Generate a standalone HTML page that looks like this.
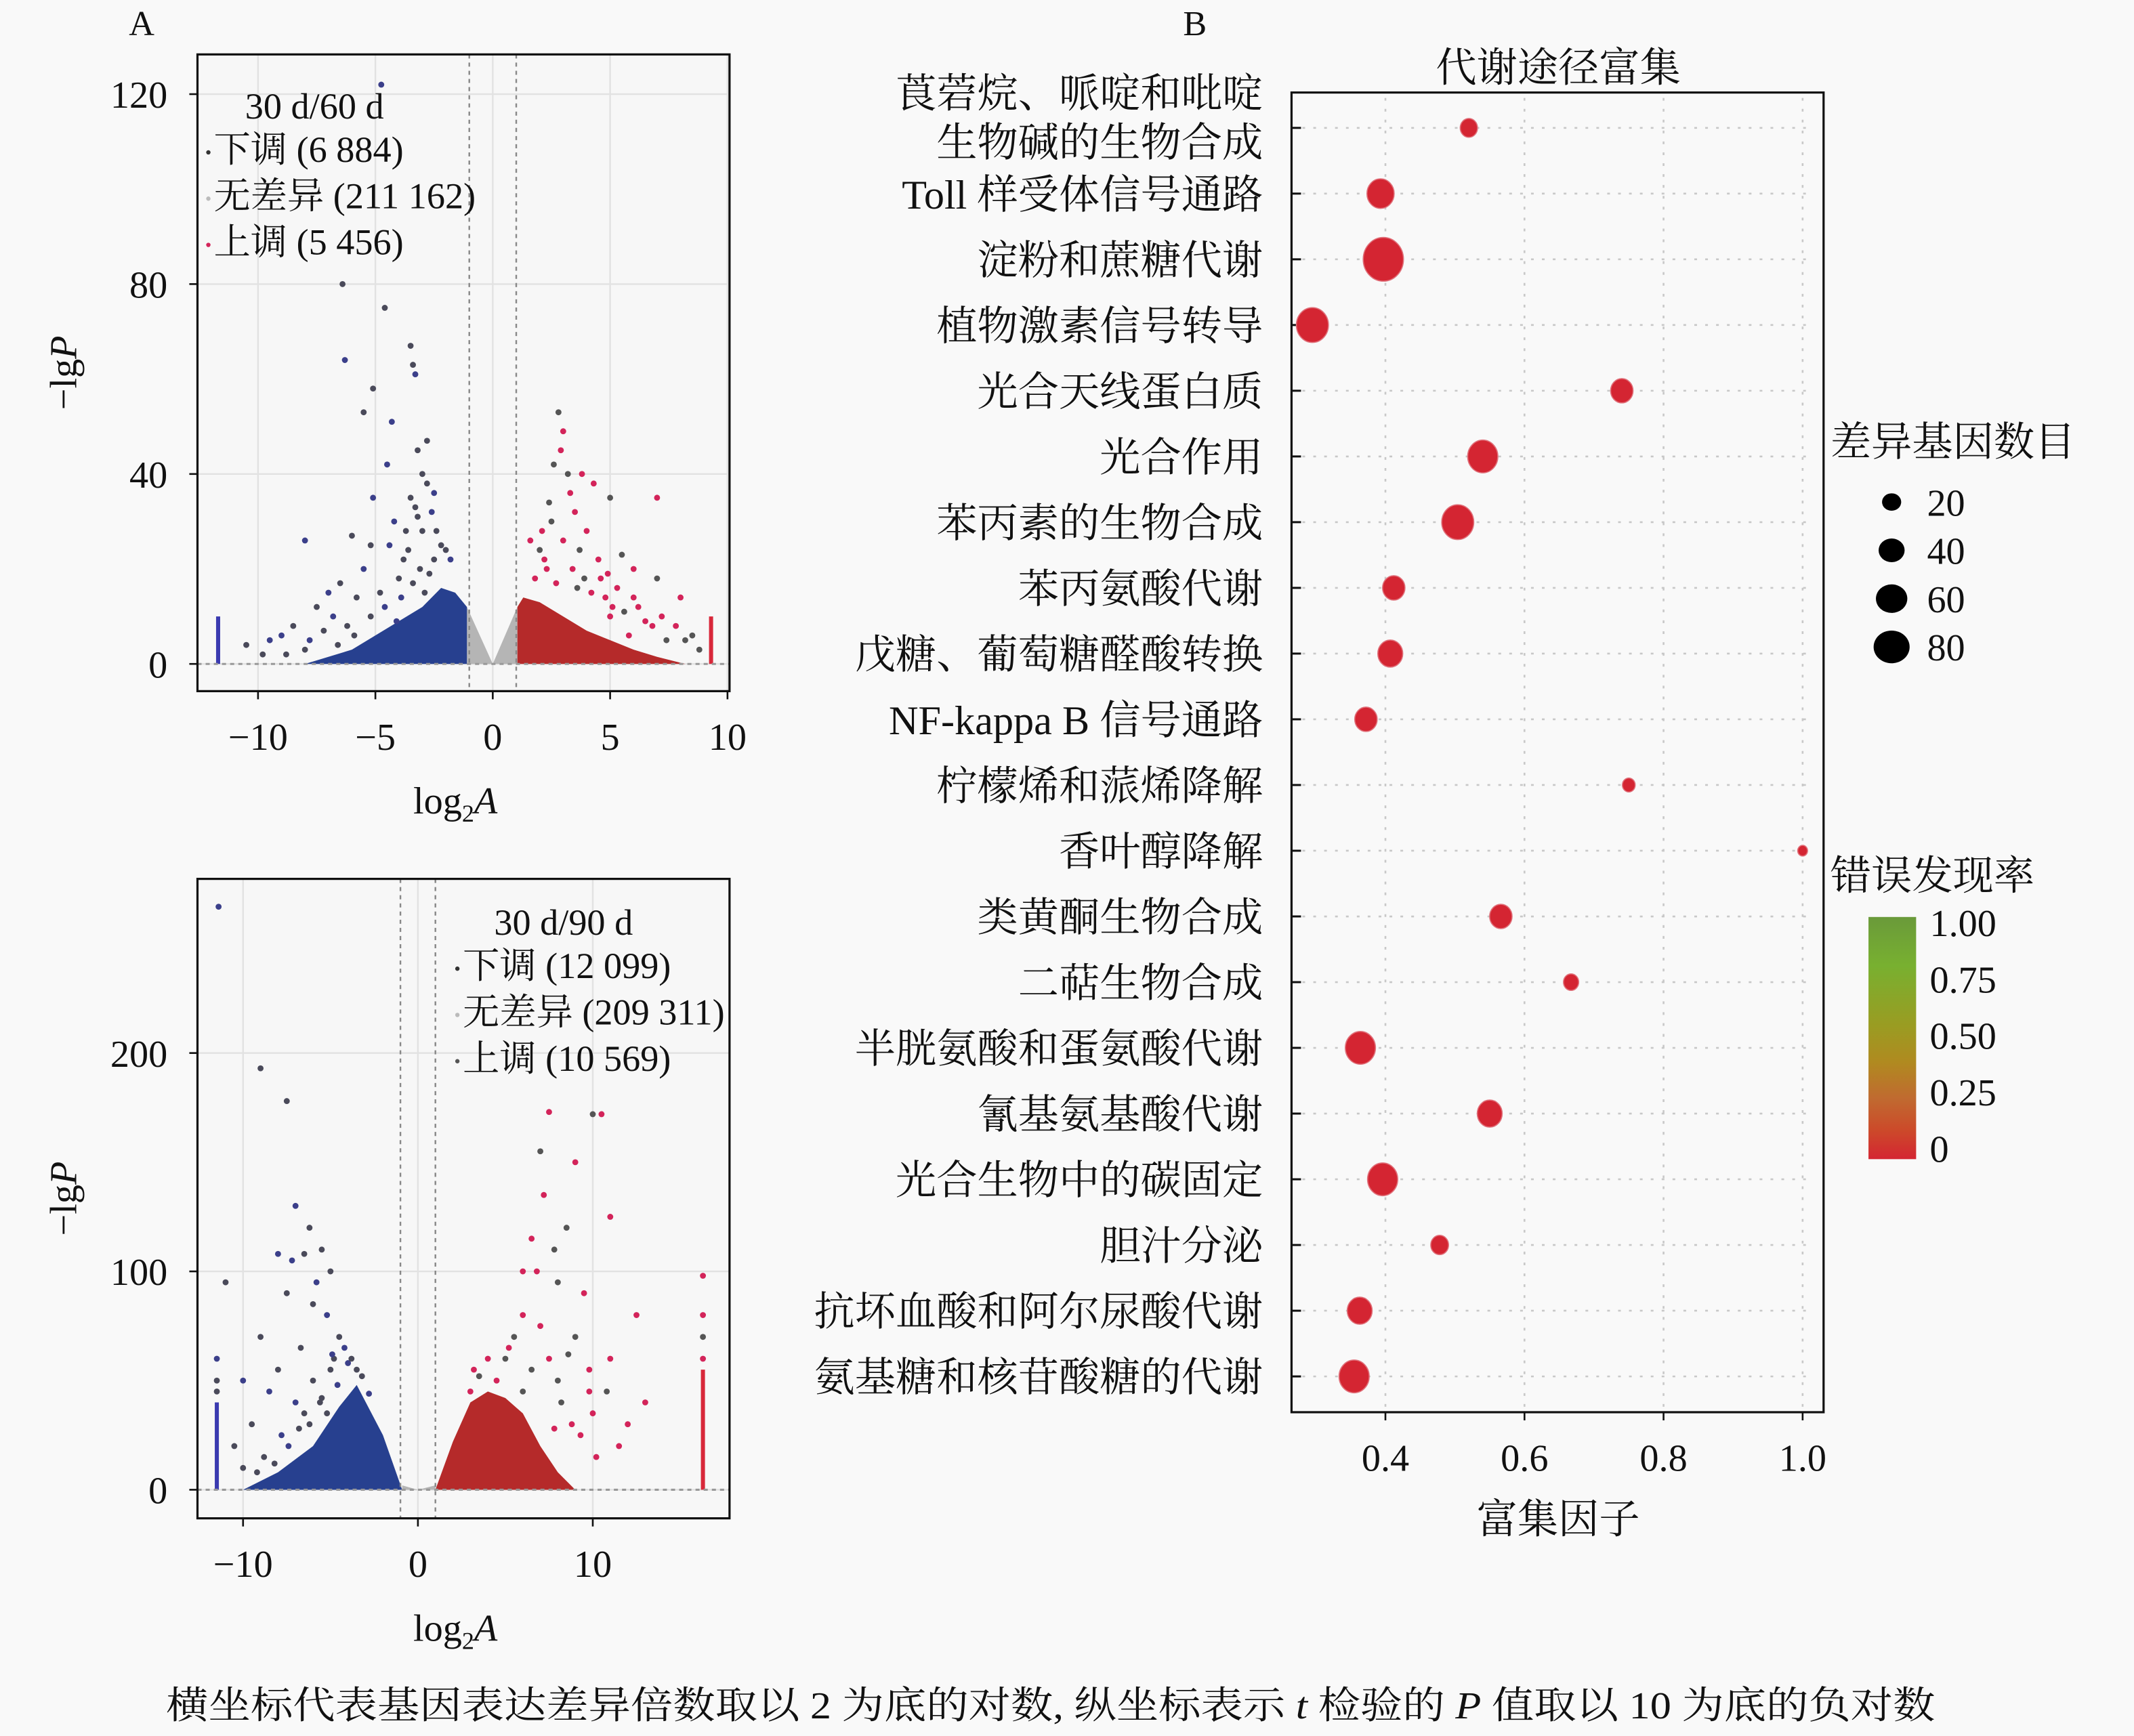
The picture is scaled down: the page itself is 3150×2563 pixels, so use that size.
<!DOCTYPE html>
<html><head><meta charset="utf-8">
<style>
html,body{margin:0;padding:0;background:#f9f9f9;}
svg{display:block;}
text{font-family:"Liberation Serif","Noto Serif CJK SC",serif;fill:#111;}
</style></head>
<body>
<svg id="root" width="3150" height="2563" viewBox="0 0 1568 1276" xmlns="http://www.w3.org/2000/svg">
<rect x="0" y="0" width="1568" height="1276" fill="#f9f9f9"/>
<g id="gA1"></g>
<g id="gA2"></g>
<g id="gB"></g>
<text x="104" y="26" font-size="26" text-anchor="middle">A</text>
<text x="878" y="26" font-size="26" text-anchor="middle">B</text>
<text x="772" y="1263" font-size="28" text-anchor="middle" textLength="1300" lengthAdjust="spacingAndGlyphs">横坐标代表基因表达差异倍数取以 2 为底的对数, 纵坐标表示 <tspan font-style="italic">t</tspan> 检验的 <tspan font-style="italic">P</tspan> 值取以 10 为底的负对数</text>
</svg>
<script>
// ---------- Volcano 1 data (30 d/60 d) ----------
const v1DownOutliers = [[-4.75,122],[-6.4,80],[-4.6,75],[-6.3,64],[-3.5,67],[-3.4,63],[-3.3,61],[-5.1,58],[-5.5,53],[-4.3,51],[-2.8,47],[-3.2,45],[-4.5,42],[-3,40],[-2.8,38],[-5.1,35],[-3.5,35],[-3.3,33],[-8,26],[-6,27],[-5.2,25],[-4.4,25],[-3.6,24],[-2.5,22],[-7,15],[-8.5,8],[-10.5,4],[-9,6],[-7.5,12],[-6.5,17],[-5.5,20],[-4,18],[-3,28],[-4.2,30],[-3.8,22],[-2.2,25],[-6.8,10],[-5.8,14],[-4.8,15],[-9.5,5],[-8,3],[-7.2,7],[-2.6,32],[-2.4,28],[-2,24],[-1.8,22],[-3.1,20],[-2.7,19],[-4.6,12],[-5.2,10],[-6.2,8],[-3.9,14],[-3.4,17],[-2.9,15],[-7.8,5],[-6.6,4],[-5.9,6],[-4.1,9],[-3.7,28],[-3.2,31],[-2.5,36],[-9.8,2],[-8.8,2]];
const v1UpOutliers = [[2.8,53],[3,49],[2.9,45],[3.2,40],[3.8,40],[4.3,38],[5,35],[7,35],[3.5,32],[2.5,30],[4,28],[3,26],[5.5,23],[4.5,22],[6,20],[7,18],[8,14],[7.8,8],[8.5,6],[5,10],[6.5,9],[2,24],[2.3,20],[1.8,18],[3.6,16],[4.8,14],[6.2,12],[7.4,5],[5.8,6],[3.3,36],[2.6,42],[4.6,18],[5.3,16],[8.8,3],[1.6,26],[2.1,28],[2.4,34],[2.2,22],[3.4,20],[3.9,18],[4.2,15],[5.1,12],[5.6,11],[6.8,8],[7.2,10],[8.2,5],[6,14],[4.9,19],[3.7,24],[2.7,17]];
const v1DownEnvX = [-8,-6,-5,-4,-3,-2.2,-1.6,-1.1];
const v1DownEnvY = [0,3,6,9,12,16,15,12];
const v1UpEnvX = [1.05,1.3,2,3,4,5,6,7,8.2];
const v1UpEnvY = [12,14,13,10,7,5,3,1.5,0];
const v1NsEnvX = [-1.1,0,1.05];
const v1NsEnvY = [12,0,12];
const v1BarDown = [-11.7,10];
const v1BarUp = [9.3,10];
const v1XTicks = [-10,-5,0,5,10];
const v1YTicks = [0,40,80,120];

// ---------- Volcano 2 data (30 d/90 d) ----------
const v2DownOutliers = [[-11.4,267],[-9,193],[-7.5,178],[-7,130],[-6.2,120],[-11,95],[-8,108],[-6.5,108],[-5,100],[-5.8,95],[-7.5,90],[-9,70],[-10,50],[-8,55],[-6.7,65],[-5.2,80],[-4.5,70],[-6,85],[-7.2,105],[-5.5,110],[-4.8,60],[-8.5,45],[-9.5,30],[-10.5,20],[-7,40],[-6,50],[-5,55],[-4,58],[-10,10],[-8.8,15],[-7.8,25],[-6.5,35],[-5.5,42],[-11.5,60],[-11.5,50],[-11.5,45],[-4.2,65],[-3.8,60],[-3.2,52],[-2.8,44],[-5.6,40],[-6.2,30],[-7.4,20],[-8.2,12],[-9.2,8],[-4.6,48],[-5.2,35],[-6.8,28],[-4.9,62],[-3.5,55]];
const v2UpOutliers = [[10,172],[10.5,172],[7.5,173],[7,155],[9,150],[11,125],[7.8,110],[6.5,115],[6,100],[8,95],[9.5,90],[12.5,80],[9,70],[11,60],[13,40],[8,50],[10,35],[6,80],[5,60],[7,75],[12,30],[8.5,120],[7.2,135],[6.8,100],[5.5,70],[4.5,50],[9.8,55],[10.8,45],[11.5,20],[8.8,30],[6,45],[16.3,98],[16.3,80],[16.3,70],[16.3,60],[4,60],[3.5,52],[3,45],[7.5,60],[8.2,40],[9.3,25],[10.2,15],[6.5,55],[7.8,28],[5.2,65],[8.6,62],[9.8,45],[3.2,55]];
const v2DownEnvX = [-10,-8,-6,-4.5,-3.5,-2,-0.9];
const v2DownEnvY = [0,8,20,38,48,25,0];
const v2UpEnvX = [1,2,3,4,5,6,7,8,9];
const v2UpEnvY = [0,22,40,45,42,35,20,8,0];
const v2NsEnvX = [-0.9,0,1];
const v2NsEnvY = [2,0,2];
const v2BarDown = [-11.5,40];
const v2BarUp = [16.3,55];
const v2XTicks = [-10,0,10];
const v2YTicks = [0,100,200];

// ---------- Enrichment data ----------
const pathways = ["莨菪烷、哌啶和吡啶|生物碱的生物合成","Toll 样受体信号通路","淀粉和蔗糖代谢","植物激素信号转导","光合天线蛋白质","光合作用","苯丙素的生物合成","苯丙氨酸代谢","戊糖、葡萄糖醛酸转换","NF-kappa B 信号通路","柠檬烯和蒎烯降解","香叶醇降解","类黄酮生物合成","二萜生物合成","半胱氨酸和蛋氨酸代谢","氰基氨基酸代谢","光合生物中的碳固定","胆汁分泌","抗坏血酸和阿尔尿酸代谢","氨基糖和核苷酸糖的代谢"];
const richFactor = [0.52,0.393,0.397,0.295,0.74,0.54,0.504,0.412,0.407,0.372,0.75,1.0,0.566,0.667,0.364,0.55,0.396,0.478,0.363,0.355];
const geneCount = [14,40,92,57,26,50,57,26,33,26,6,2,26,10,50,33,50,15,33,50];
const fdr = [0.02,0,0,0,0.01,0,0,0.01,0.01,0.01,0.03,0.04,0.01,0.02,0,0.01,0,0.02,0.01,0];
const enrichXTicks = [0.4,0.6,0.8,1.0];
const sizeLegend = [20,40,60,80];
const fdrTicks = ["1.00","0.75","0.50","0.25","0"];

const NS='http://www.w3.org/2000/svg';
function mk(parent, tag, attrs){const e=document.createElementNS(NS,tag);for(const k in attrs)e.setAttribute(k,attrs[k]);parent.appendChild(e);return e;}

function volcano(g, cfg){
  const {L,R,T,B,x0,xs,y0,ys} = cfg;
  const X=v=>x0+v*xs, Y=v=>y0-v*ys;
  mk(g,'rect',{x:L,y:T,width:R-L,height:B-T,fill:'#f7f7f7'});
  cfg.xt.forEach(t=>{const l=mk(g,'line',{x1:X(t),x2:X(t),y1:T,y2:B,stroke:'#e2e2e2','stroke-width':1.2});
    
    });
  cfg.yt.forEach(t=>{const l=mk(g,'line',{x1:L,x2:R,y1:Y(t),y2:Y(t),stroke:'#e2e2e2','stroke-width':1.2});
    
    });
  const poly=(xsArr,ysArr,fill,name)=>{
    let pts=xsArr.map((v,i)=>X(v)+','+Y(ysArr[i])).join(' ');
    pts+=' '+X(xsArr[xsArr.length-1])+','+Y(0)+' '+X(xsArr[0])+','+Y(0);
    const p=mk(g,'polygon',{points:pts,fill:fill});
    
    
  };
  poly(cfg.nsx,cfg.nsy,'#b5b5b5','not-significant-region');
  poly(cfg.dx,cfg.dy,'#27408f','down-regulated-region');
  poly(cfg.ux,cfg.uy,'#b52a2a','up-regulated-region');
  const bd=mk(g,'rect',{x:X(cfg.bd[0])-1.5,y:Y(cfg.bd[1]),width:3,height:Y(0)-Y(cfg.bd[1]),fill:'#3a3ab0'});
  
  
  const bu=mk(g,'rect',{x:X(cfg.bu[0])-1.5,y:Y(cfg.bu[1]),width:3,height:Y(0)-Y(cfg.bu[1]),fill:'#d8283a'});
  
  
  cfg.dO.forEach((p,i)=>{const c=mk(g,'circle',{cx:X(p[0]),cy:Y(p[1]),r:2.2,fill:i%3==0?'#3b3f8a':'#4a4a5a'});
    
    });
  cfg.uO.forEach((p,i)=>{const c=mk(g,'circle',{cx:X(p[0]),cy:Y(p[1]),r:2.2,fill:i%3==0?'#555':'#d3245a'});
    
    });
  [-1,1].forEach(t=>{const l=mk(g,'line',{x1:X(t),x2:X(t),y1:T,y2:B,stroke:'#888','stroke-width':1.2,'stroke-dasharray':'3,3'});
    
    });
  const hl=mk(g,'line',{x1:L,x2:R,y1:Y(0),y2:Y(0),stroke:'#999','stroke-width':1.5,'stroke-dasharray':'3,3'});
  
  
  const fr=mk(g,'rect',{x:L,y:T,width:R-L,height:B-T,fill:'none',stroke:'#111','stroke-width':1.6});
  
  
  cfg.xt.forEach(t=>{
    const tk=mk(g,'line',{x1:X(t),x2:X(t),y1:B,y2:B+6,stroke:'#111','stroke-width':1.3});
    
    
    const tx=mk(g,'text',{x:X(t),y:B+43,'font-size':28,'text-anchor':'middle'});
    tx.textContent=(t<0?'\u2212':'')+Math.abs(t);
    
    });
  cfg.yt.forEach(t=>{
    const tk=mk(g,'line',{x1:L-6,x2:L,y1:Y(t),y2:Y(t),stroke:'#111','stroke-width':1.3});
    
    
    const tx=mk(g,'text',{x:L-22,y:Y(t)+10,'font-size':28,'text-anchor':'end'});
    tx.textContent=t;
    
    });
  const xl=mk(g,'text',{x:(L+R)/2-6,y:B+90,'font-size':28,'text-anchor':'middle'});
  xl.innerHTML='log<tspan font-size="18" dy="6">2</tspan><tspan dy="-6" font-style="italic">A</tspan>';
  
  
  const yl=mk(g,'text',{x:0,y:0,'font-size':28,'text-anchor':'middle',transform:`translate(56,${(T+B)/2}) rotate(-90)`});
  yl.innerHTML='\u2212lg<tspan font-style="italic">P</tspan>';
  
  
  const lg=mk(g,'g',{});
  
  
  const lx=cfg.lx, ly=cfg.ly;
  const t0=mk(lg,'text',{x:lx+25,y:ly,'font-size':27});t0.textContent=cfg.title;
  
  
  cfg.items.forEach((it,i)=>{
    const d=mk(lg,'circle',{cx:lx-2,cy:ly+25+i*34,r:1.6,fill:it[1]});
    
    
    const t=mk(lg,'text',{x:lx+2,y:ly+32+i*34,'font-size':27});t.textContent=it[0];
    
    });
}

volcano(document.getElementById('gA1'),{L:145,R:536,T:40,B:508,x0:362,xs:17.25,y0:488,ys:3.49,
  xt:v1XTicks,yt:v1YTicks,dO:v1DownOutliers,uO:v1UpOutliers,dx:v1DownEnvX,dy:v1DownEnvY,ux:v1UpEnvX,uy:v1UpEnvY,nsx:v1NsEnvX,nsy:v1NsEnvY,bd:v1BarDown,bu:v1BarUp,
  lx:155,ly:87,title:'30 d/60 d',items:[['下调 (6 884)','#333'],['无差异 (211 162)','#bbb'],['上调 (5 456)','#d3245a']]});
volcano(document.getElementById('gA2'),{L:145,R:536,T:646,B:1116,x0:307,xs:12.85,y0:1095,ys:1.605,
  xt:v2XTicks,yt:v2YTicks,dO:v2DownOutliers,uO:v2UpOutliers,dx:v2DownEnvX,dy:v2DownEnvY,ux:v2UpEnvX,uy:v2UpEnvY,nsx:v2NsEnvX,nsy:v2NsEnvY,bd:v2BarDown,bu:v2BarUp,
  lx:338,ly:687,title:'30 d/90 d',items:[['下调 (12 099)','#333'],['无差异 (209 311)','#bbb'],['上调 (10 569)','#555']]});

// ---------- Bubble chart ----------
(function(){
  const g=document.getElementById('gB');
  const L=949,R=1340,T=68,B=1038;
  const X=v=>1018+(v-0.4)*511;
  const Y=i=>94+i*48.3;
  const rad=n=>Math.sqrt(10+2.7*n);
  const colorOf=f=>f<0.1?'#d42532':'#c05a30';
  const t=mk(g,'text',{x:1145,y:60,'font-size':30,'text-anchor':'middle'});t.textContent='代谢途径富集';
  
  
  enrichXTicks.forEach(v=>{const l=mk(g,'line',{x1:X(v),x2:X(v),y1:T+4,y2:B,stroke:'#c8c8c8','stroke-width':1.3,'stroke-dasharray':'2,6'});
    
    });
  pathways.forEach((p,i)=>{
    const l=mk(g,'line',{x1:L,x2:R-8,y1:Y(i),y2:Y(i),stroke:'#c8c8c8','stroke-width':1.3,'stroke-dasharray':'2,6'});
    
    
    const tk=mk(g,'line',{x1:L,x2:L+7,y1:Y(i),y2:Y(i),stroke:'#111','stroke-width':1.5});
    
    
    const parts=p.split('|');
    const tx=mk(g,'text',{x:928,y:Y(i)+11,'font-size':30,'text-anchor':'end'});
    if(parts.length>1){tx.setAttribute('y',Y(i)-15);
      tx.innerHTML=`<tspan x="928">${parts[0]}</tspan><tspan x="928" dy="36">${parts[1]}</tspan>`;}
    else tx.textContent=p;
    
    
  });
  richFactor.forEach((v,i)=>{
    const c=mk(g,'ellipse',{cx:X(v),cy:Y(i),rx:rad(geneCount[i])*0.92,ry:rad(geneCount[i]),fill:colorOf(fdr[i]),stroke:'#e0707a','stroke-width':0.8});
    
    
  });
  const fr=mk(g,'rect',{x:L,y:T,width:R-L,height:B-T,fill:'none',stroke:'#111','stroke-width':1.6});
  
  
  enrichXTicks.forEach(v=>{
    const tk=mk(g,'line',{x1:X(v),x2:X(v),y1:B,y2:B+6,stroke:'#111','stroke-width':1.3});
    
    
    const tx=mk(g,'text',{x:X(v),y:B+43,'font-size':28,'text-anchor':'middle'});tx.textContent=v.toFixed(1);
    
    });
  const xl=mk(g,'text',{x:1145,y:1127,'font-size':30,'text-anchor':'middle'});xl.textContent='富集因子';
  
  
  const st=mk(g,'text',{x:1345,y:335,'font-size':30});st.textContent='差异基因数目';
  
  
  sizeLegend.forEach((n,i)=>{
    const r=rad(n)*0.8;
    const c=mk(g,'ellipse',{cx:1390,cy:369+i*35.5,rx:r*1.1,ry:r,fill:'#000'});
    
    
    const tx=mk(g,'text',{x:1416,y:379+i*35.5,'font-size':28});tx.textContent=n;
    
    });
  const ct=mk(g,'text',{x:1345,y:654,'font-size':30});ct.textContent='错误发现率';
  
  
  const defs=mk(document.getElementById('root'),'defs',{});
  const lgd=mk(defs,'linearGradient',{id:'fdrg',x1:0,y1:0,x2:0,y2:1});
  [['0','#6a9a3a'],['0.2','#78b030'],['0.45','#9a9c22'],['0.6','#b08a20'],['0.75','#c06a30'],['0.88','#cc4a2a'],['1','#d42532']].forEach(s=>mk(lgd,'stop',{offset:s[0],'stop-color':s[1]}));
  const cb=mk(g,'rect',{x:1373,y:674,width:35,height:178,fill:'url(#fdrg)'});
  
  
  fdrTicks.forEach((s,i)=>{
    const tx=mk(g,'text',{x:1418,y:688+i*41.5,'font-size':28});tx.textContent=s;
    
    });
})();
</script>
</body></html>
